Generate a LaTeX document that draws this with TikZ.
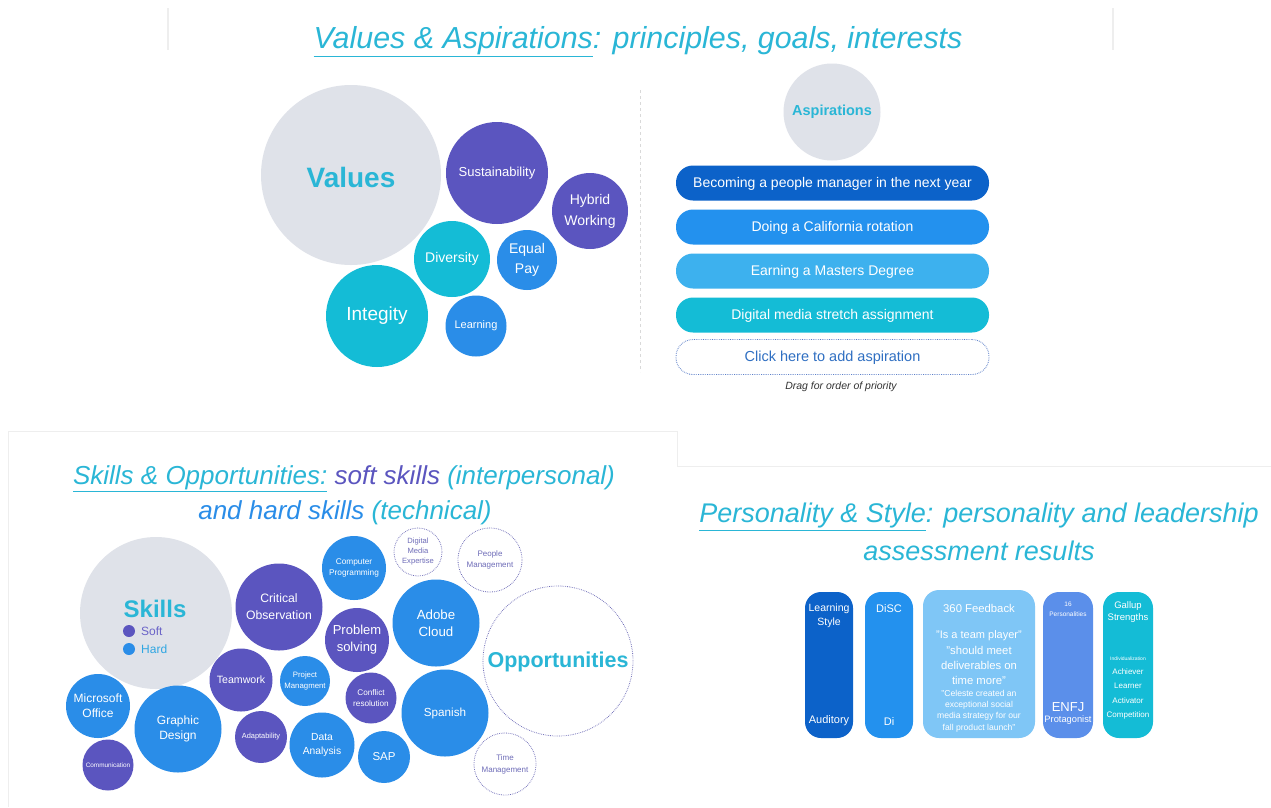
\documentclass[tikz,border=0pt]{standalone}
\usepackage{fontspec}
\setmainfont{Liberation Sans}
\definecolor{tcyan}{HTML}{2AB6D6}
\definecolor{vgray}{HTML}{DFE2E9}
\definecolor{vpurple}{HTML}{5B55BF}
\definecolor{vcyan}{HTML}{14BCD6}
\definecolor{vblue}{HTML}{2A8DE8}
\definecolor{adark}{HTML}{0C62C9}
\definecolor{amid}{HTML}{2391EE}
\definecolor{alight}{HTML}{3DB1EE}
\definecolor{dotc}{HTML}{6E6CB8}
\definecolor{clickc}{HTML}{5B7FC8}
\definecolor{clicktext}{HTML}{2F6FC2}
\definecolor{cardlight}{HTML}{7FC6F6}
\definecolor{cardmid}{HTML}{5B8FEA}
\definecolor{panelc}{HTML}{EEEEEE}
\definecolor{softc}{HTML}{6A63C8}
\definecolor{hardc}{HTML}{2FA6E2}
\newcommand{\fz}[2]{\fontsize{#1}{#2}\selectfont}
\begin{document}
\begin{tikzpicture}[x=1pt,y=-1pt,
  bub/.style={circle, inner sep=0pt, align=center, text=white},
  dbub/.style={circle, draw=dotc, dash pattern=on 0.7pt off 1.1pt, line width=0.8pt, inner sep=0pt, align=center, text=dotc},
  bigc/.style={circle, inner sep=0pt, fill=vgray},
  bar/.style={rectangle, rounded corners=17pt, minimum width=313pt, minimum height=35pt, inner sep=0pt, text=white, font=\fz{14}{17}, text height=10pt, text depth=1pt},
  card/.style={rectangle, rounded corners=16pt, inner sep=0pt, minimum height=146pt},
  ctext/.style={text=white, inner sep=0pt, align=center},
  ttl/.style={text=tcyan, inner sep=0pt, font=\itshape}
]
\useasboundingbox (0,0) rectangle (1271,807);
\fill[white] (0,0) rectangle (1271,807);

% panel outlines
\draw[panelc, line width=1.2pt] (168,8) coordinate (pl1) -- (168,50) coordinate (pl2);
\draw[panelc, line width=1.2pt] (1113,8) coordinate (pr1) -- (1113,50) coordinate (pr2);
\draw[panelc, line width=1pt] (8,807) coordinate (bl0) -- (8,431) -- (677,431) -- (677,466) -- (1271,466) coordinate (bl1);

% ===== Values & Aspirations =====
\node[ttl, font=\fz{30.4}{36}\itshape] (t1) at (638,42) {\underline{Values \& Aspirations}: principles, goals, interests};

\node[bigc, minimum size=180pt] (values) at (351,175) {};
\node[text=tcyan, font=\fz{28}{32}\bfseries] (valuest) at (351,177) {Values};
\node[bub, fill=vpurple, minimum size=102pt, font=\fz{13}{16}] (sust) at (497,173) {Sustainability};
\node[bub, fill=vpurple, minimum size=76pt, font=\fz{14}{21}] (hyb) at (590,211) {Hybrid\\Working};
\node[bub, fill=vcyan, minimum size=76pt, font=\fz{14}{17}] (div) at (452,259) {Diversity};
\node[bub, fill=vblue, minimum size=60pt, font=\fz{14}{20}] (eq) at (527,260) {Equal\\Pay};
\node[bub, fill=vcyan, minimum size=102pt, font=\fz{19}{22}] (integ) at (377,316) {Integity};
\node[bub, fill=vblue, minimum size=61pt, font=\fz{11}{13}] (learn) at (476,326) {Learning};

\draw[gray!30, dashed, line width=0.8pt] (640,90) coordinate (d1) -- (640,372) coordinate (d2);

\node[bigc, minimum size=97pt] (asp) at (832,112) {};
\node[text=tcyan, font=\fz{14.5}{17}\bfseries] (aspt) at (832,112) {Aspirations};
\node[bar, fill=adark] (a1) at (832.5,183) {Becoming a people manager in the next year};
\node[bar, fill=amid] (a2) at (832.5,227) {Doing a California rotation};
\node[bar, fill=alight] (a3) at (832.5,271) {Earning a Masters Degree};
\node[bar, fill=vcyan] (a4) at (832.5,315) {Digital media stretch assignment};
\node[bar, draw=clickc, line width=0.9pt, dash pattern=on 0.7pt off 1.1pt, text=clicktext, font=\fz{14.5}{17}] (a5) at (832.5,357) {Click here to add aspiration};
\node[text=black!80, font=\fz{10.5}{12}\itshape, inner sep=0pt] (drag) at (841,387) {Drag for order of priority};

% ===== Skills & Opportunities =====
\node[ttl, font=\fz{26}{31}\itshape] (t2a) at (344,479) {\underline{Skills \& Opportunities:} {\color{vpurple}soft skills} (interpersonal)};
\node[ttl, font=\fz{26}{31}\itshape] (t2b) at (345,513) {{\color{vblue}and hard skills} (technical)};

\node[bigc, minimum size=152pt] (skills) at (156,613) {};
\node[text=tcyan, font=\fz{24}{28}\bfseries, inner sep=0pt] (skillst) at (155,609) {Skills};
\node[circle, fill=vpurple, minimum size=12pt, inner sep=0pt] (sdot) at (129,631) {};
\node[circle, fill=vblue, minimum size=12pt, inner sep=0pt] (hdot) at (129,649) {};
\node[text=softc, anchor=west, font=\fz{12}{14}, inner sep=0pt] (soft) at (141,631) {Soft};
\node[text=hardc, anchor=west, font=\fz{12}{14}, inner sep=0pt] (hard) at (141,649) {Hard};

\node[bub, fill=vpurple, minimum size=87pt, font=\fz{12.2}{17}] (crit) at (279,607) {Critical\\Observation};
\node[bub, fill=vblue, minimum size=64pt, font=\fz{8.3}{11}] (comp) at (354,568) {Computer\\Programming};
\node[bub, fill=vpurple, minimum size=64pt, font=\fz{13}{17}] (prob) at (357,640) {Problem\\solving};
\node[bub, fill=vpurple, minimum size=63pt, font=\fz{10.6}{13}] (team) at (241,680) {Teamwork};
\node[bub, fill=vblue, minimum size=50pt, font=\fz{7.8}{11}] (proj) at (305,681) {Project\\Managment};
\node[bub, fill=vpurple, minimum size=51pt, font=\fz{8.2}{11}] (conf) at (371,698) {Conflict\\resolution};
\node[bub, fill=vblue, minimum size=64pt, font=\fz{12}{15}] (ms) at (98,706) {Microsoft\\Office};
\node[bub, fill=vblue, minimum size=87pt, font=\fz{12}{14.5}] (gd) at (178,729) {Graphic\\Design};
\node[bub, fill=vpurple, minimum size=51pt, font=\fz{6.4}{8}] (commu) at (108,765) {Communication};
\node[bub, fill=vpurple, minimum size=52pt, font=\fz{7.4}{9}] (adapt) at (261,737) {Adaptability};
\node[bub, fill=vblue, minimum size=65pt, font=\fz{10.3}{14}] (data) at (322,745) {Data\\Analysis};
\node[bub, fill=vblue, minimum size=52pt, font=\fz{11.5}{14}] (sap) at (384,757) {SAP};
\node[bub, fill=vblue, minimum size=87pt, font=\fz{13.3}{17}] (adobe) at (436,623) {Adobe\\Cloud};
\node[bub, fill=vblue, minimum size=87pt, font=\fz{11.7}{14}] (span) at (445,713) {Spanish};

\node[dbub, minimum size=48pt, font=\fz{7.6}{10}] (dme) at (418,552) {Digital\\Media\\Expertise};
\node[dbub, minimum size=64pt, font=\fz{8}{11}] (pm) at (490,560) {People\\Management};
\node[dbub, minimum size=150pt] (opp) at (558,661) {};
\node[text=tcyan, font=\fz{21.5}{25}\bfseries, inner sep=0pt] (oppt) at (558,662) {Opportunities};
\node[dbub, minimum size=62pt, font=\fz{8}{12}] (tm) at (505,764) {Time\\Management};

% ===== Personality & Style =====
\node[ttl, font=\fz{27}{32}\itshape] (t3a) at (979,517) {\underline{Personality \& Style}: personality and leadership};
\node[ttl, font=\fz{27}{32}\itshape] (t3b) at (979,551) {assessment results};

\node[card, fill=adark, minimum width=48pt] (c1) at (829,665) {};
\node[ctext, font=\fz{10.5}{14}] (c1a) at (829,616) {Learning\\Style};
\node[ctext, font=\fz{11}{13}] (c1b) at (829,721) {Auditory};

\node[card, fill=amid, minimum width=48pt] (c2) at (889,665) {};
\node[ctext, font=\fz{11}{13}] (c2a) at (889,609) {DiSC};
\node[ctext, font=\fz{11}{13}] (c2b) at (889,721) {Di};

\node[card, fill=cardlight, minimum width=112pt, minimum height=148pt] (c3) at (979,664) {};
\node[ctext, font=\fz{11.3}{13}] (c3a) at (979,608) {360 Feedback};
\node[ctext, font=\fz{11}{13}] (c3b) at (979,636) {"Is a team player"};
\node[ctext, font=\fz{11.3}{15}] (c3c) at (979,665) {"should meet\\deliverables on\\time more"};
\node[ctext, font=\fz{8.6}{11.2}] (c3d) at (979,711) {"Celeste created an\\exceptional social\\media strategy for our\\fall product launch"};

\node[card, fill=cardmid, minimum width=50pt] (c4) at (1068,665) {};
\node[ctext, font=\fz{6.5}{9.5}] (c4a) at (1068,609) {16\\Personalities};
\node[ctext, font=\fz{13}{15}] (c4b) at (1068,707) {ENFJ};
\node[ctext, font=\fz{9.3}{12}] (c4c) at (1068,720) {Protagonist};

\node[card, fill=vcyan, minimum width=50pt] (c5) at (1128,665) {};
\node[ctext, font=\fz{9.5}{12}] (c5a) at (1128,612) {Gallup\\Strengths};
\node[ctext, font=\fz{5}{6}] (c5b) at (1128,659) {Individualization};
\node[ctext, font=\fz{8}{14.5}] (c5c) at (1128,694) {Achiever\\Learner\\Activator\\Competition};
\end{tikzpicture}
\end{document}
